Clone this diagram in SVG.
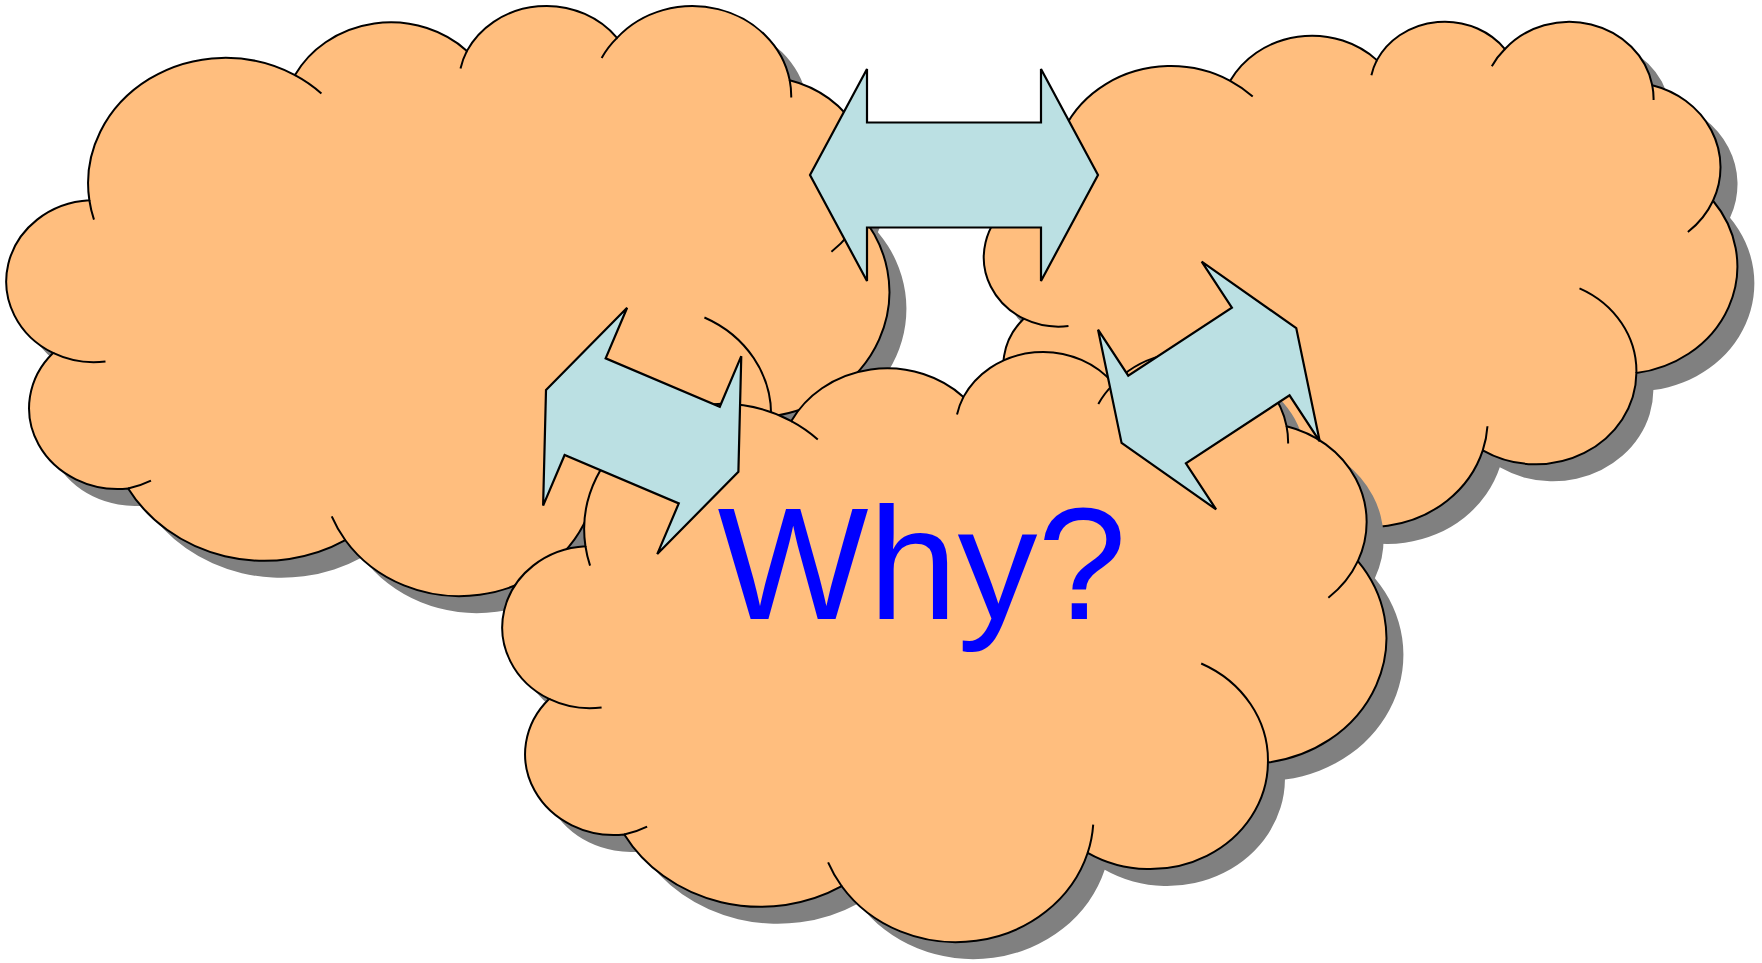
<svg xmlns="http://www.w3.org/2000/svg" xmlns:xlink="http://www.w3.org/1999/xlink" width="1762" height="963" viewBox="0 0 1762 963">
  <style>
    .cloud { fill: #FFBE7E; stroke: #000000; stroke-width: 2; }
    .shadow { fill: #808080; stroke: none; }
    .inner { fill: none; stroke: #000000; stroke-width: 2; }
    .arrow { fill: #BBE0E3; stroke: #000000; stroke-width: 2.2; stroke-linejoin: miter; }
    .label { font-family: "Liberation Sans", Arial, sans-serif; font-size: 160px; fill: #0000FF; text-anchor: middle; }
  </style>
  <defs>
    <path id="cloudOutline" vector-effect="non-scaling-stroke" d="M3900,14370 A6753,9190 0 0 1 14006,5203 A5333,7267 0 0 1 22457,3433 A4365,5945 0 0 1 29834,2482 A4857,6595 0 0 1 38319,5577 A5333,7273 0 0 1 41819,15461 A6775,9220 0 0 1 37405,30204 A5785,7867 0 0 1 28557,36814 A6752,9215 0 0 1 16481,39265 A7720,10543 0 0 1 5806,35471 A4360,5918 0 0 1 2114,25549 A4345,5945 0 0 1 3900,14370 Z"/>
    <path id="cloudInner" vector-effect="non-scaling-stroke" d="M4693,26177 A4345,5945 0 0 1 2114,25549 M6928,34899 A4360,5918 0 0 1 5806,35471 M16481,39265 A6752,9215 0 0 1 15813,37525 M28827,34751 A6752,9215 0 0 1 28557,36814 M34129,22954 A5785,7867 0 0 1 37405,30204 M41819,15461 A5333,7273 0 0 1 40371,18136 M38319,5577 A4857,6595 0 0 1 38395,6840 M29078,3952 A4857,6595 0 0 1 29834,2482 M22141,4720 A4365,5945 0 0 1 22457,3433 M14006,5203 A6753,9190 0 0 1 15305,6550 M4127,15789 A6753,9190 0 0 1 3900,14370"/>
    <polygon id="arrowShape" points="-104.5,0 -62,-107.5 -62,-52.5 62,-52.5 62,-107.5 104.5,0 62,107.5 62,52.5 -62,52.5 -62,107.5"/>
  </defs>

  <g id="cloud-left">
    <use xlink:href="#cloudOutline" class="shadow" transform="translate(27,21) scale(0.020347,0.013657)"/>
    <use xlink:href="#cloudOutline" class="cloud" transform="translate(10,4) scale(0.020347,0.013657)"/>
    <use xlink:href="#cloudInner" class="inner" transform="translate(10,4) scale(0.020347,0.013657)"/>
  </g>

  <g id="cloud-right">
    <use xlink:href="#cloudOutline" class="shadow" transform="translate(1004,37) scale(0.017361,0.011690)"/>
    <use xlink:href="#cloudOutline" class="cloud" transform="translate(987,20) scale(0.017361,0.011690)"/>
    <use xlink:href="#cloudInner" class="inner" transform="translate(987,20) scale(0.017361,0.011690)"/>
  </g>

  <g id="cloud-why">
    <use xlink:href="#cloudOutline" class="shadow" transform="translate(523,367) scale(0.020370,0.013657)"/>
    <use xlink:href="#cloudOutline" class="cloud" transform="translate(506,350) scale(0.020370,0.013657)"/>
    <use xlink:href="#cloudInner" class="inner" transform="translate(506,350) scale(0.020370,0.013657)"/>
    <text class="label" x="922" y="619">Why?</text>
  </g>

  <g id="connectors">
    <polygon id="arrow-top" class="arrow" points="810,175 867,69 867,122.5 1041,122.5 1041,69 1098,175 1041,281 1041,227.5 867,227.5 867,281"/>
    <use id="arrow-left" xlink:href="#arrowShape" class="arrow" transform="translate(642.2,430.9) rotate(23)"/>
    <use id="arrow-right" xlink:href="#arrowShape" class="arrow" transform="translate(1208.9,385.5) rotate(-33.3)"/>
  </g>
</svg>
